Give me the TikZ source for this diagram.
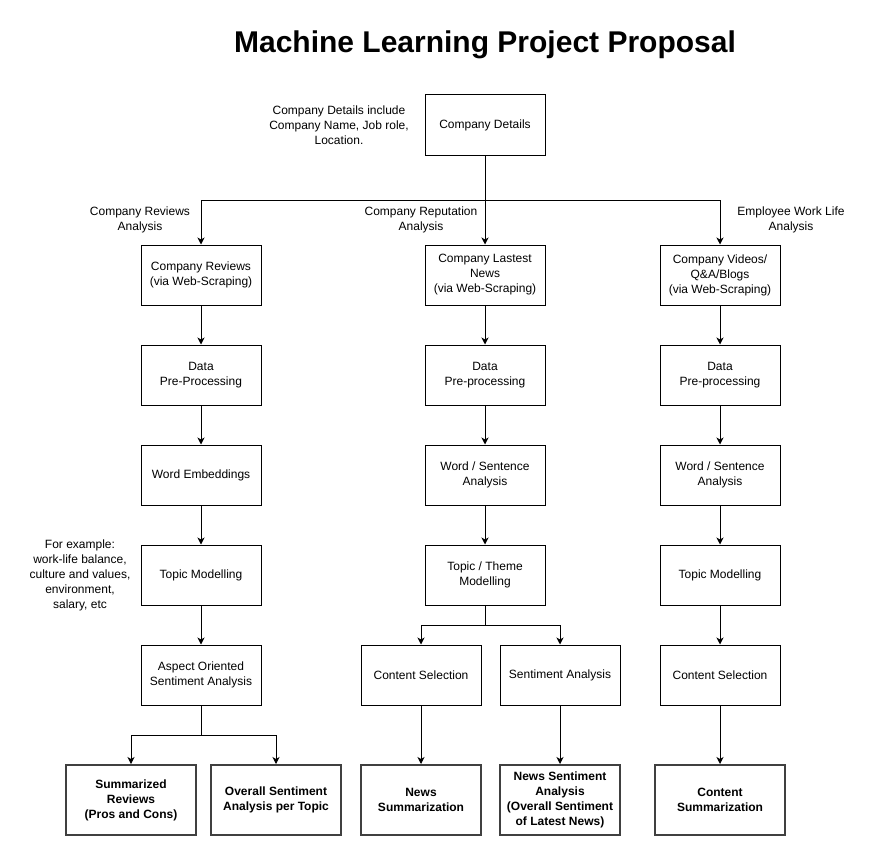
\documentclass[tikz,border=0pt]{standalone}
\usepackage{fontspec}
\setmainfont{Liberation Sans}
\usetikzlibrary{arrows.meta}
\tikzset{
  box/.style={draw, minimum width=120pt, minimum height=60pt, align=center,
    inner sep=2pt, font=\fontsize{12}{15}\selectfont},
  result/.style={box, line width=2pt, draw=black!75, minimum height=70pt,
    font=\fontsize{12}{15}\selectfont\bfseries},
  note/.style={align=center, inner sep=0pt, font=\fontsize{12}{15}\selectfont},
  arr/.style={-{Stealth[length=7pt, width=7pt, inset=2pt]}},
}
\begin{document}
\begin{tikzpicture}[x=1pt, y=-1pt, line width=1pt]
    \useasboundingbox (0,0) rectangle (875,856);
    \node [font=\fontsize{30}{34}\selectfont\bfseries] (title) at (485,45) {Machine Learning Project Proposal};
    % top
    \node [box] (det) at (485,125) {Company Details};
    \node [note] (detnote) at (339,125) {Company Details include\\Company Name, Job role,\\Location.};
    \coordinate (spl) at (485,200);
    % first column
    \node [box] (rev) at (201,275) {Company Reviews\\(via Web-Scraping)};
    \node [box] (pre1) at (201,375) {Data\\Pre-Processing};
    \node [box] (emb1) at (201,475) {Word Embeddings};
    \node [box] (top1) at (201,575) {Topic Modelling};
    \node [box] (asp) at (201,675) {Aspect Oriented\\Sentiment Analysis};
    \node [result, minimum width=130pt] (sum1) at (131,800) {Summarized\\Reviews\\(Pros and Cons)};
    \node [result, minimum width=130pt] (ovr1) at (276,800) {Overall Sentiment\\Analysis per Topic};
    \node [note] (revlbl) at (140,220) {Company Reviews\\Analysis};
    \node [note] (topnote) at (80,575) {For example:\\work-life balance,\\culture and values,\\environment,\\salary, etc};
    % second column
    \node [box] (news) at (485,275) {Company Lastest\\News\\(via Web-Scraping)};
    \node [box] (pre2) at (485,375) {Data\\Pre-processing};
    \node [box] (wsa2) at (485,475) {Word / Sentence\\Analysis};
    \node [box] (top2) at (485,575) {Topic / Theme\\Modelling};
    \node [box] (cs2) at (421,675) {Content Selection};
    \node [box] (sa2) at (560,675) {Sentiment Analysis};
    \node [result] (nsum) at (421,800) {News\\Summarization};
    \node [result] (nsent) at (560,800) {News Sentiment\\Analysis\\(Overall Sentiment\\of Latest News)};
    \node [note] (replbl) at (421,220) {Company Reputation\\Analysis};
    % third column
    \node [box] (vid) at (720,275) {Company Videos/\\Q\&A/Blogs\\(via Web-Scraping)};
    \node [box] (pre3) at (720,375) {Data\\Pre-processing};
    \node [box] (wsa3) at (720,475) {Word / Sentence\\Analysis};
    \node [box] (top3) at (720,575) {Topic Modelling};
    \node [box] (cs3) at (720,675) {Content Selection};
    \node [result, minimum width=130pt] (csum) at (720,800) {Content\\Summarization};
    \node [note] (emplbl) at (791,220) {Employee Work Life\\Analysis};
    % connectors
    \draw (det) -- (spl);
    \draw [arr] (spl) -| (rev);
    \draw [arr] (spl) -- (news);
    \draw [arr] (spl) -| (vid);
    \draw [arr] (rev) -- (pre1);
    \draw [arr] (pre1) -- (emb1);
    \draw [arr] (emb1) -- (top1);
    \draw [arr] (top1) -- (asp);
    \coordinate (spl1) at (201,735);
    \draw (asp) -- (spl1);
    \draw [arr] (spl1) -| (sum1);
    \draw [arr] (spl1) -| (ovr1);
    \draw [arr] (news) -- (pre2);
    \draw [arr] (pre2) -- (wsa2);
    \draw [arr] (wsa2) -- (top2);
    \coordinate (spl2) at (485,625);
    \draw (top2) -- (spl2);
    \draw [arr] (spl2) -| (cs2);
    \draw [arr] (spl2) -| (sa2);
    \draw [arr] (cs2) -- (nsum);
    \draw [arr] (sa2) -- (nsent);
    \draw [arr] (vid) -- (pre3);
    \draw [arr] (pre3) -- (wsa3);
    \draw [arr] (wsa3) -- (top3);
    \draw [arr] (top3) -- (cs3);
    \draw [arr] (cs3) -- (csum);
\end{tikzpicture}
\end{document}
